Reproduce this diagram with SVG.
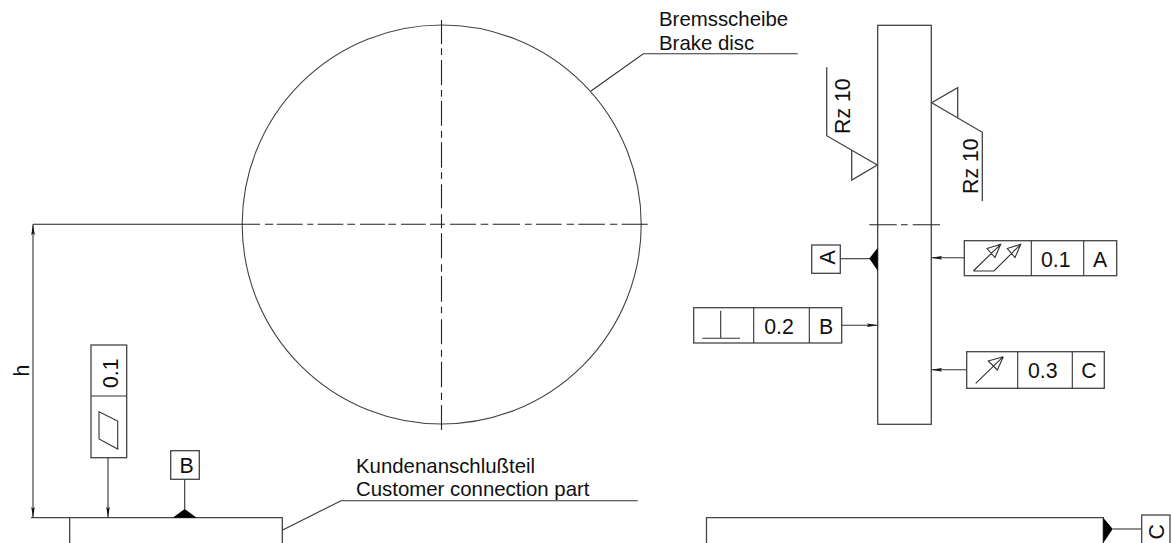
<svg xmlns="http://www.w3.org/2000/svg" width="1171" height="543" viewBox="0 0 1171 543">
<defs>
<marker id="arr" markerUnits="userSpaceOnUse" markerWidth="12" markerHeight="6" refX="11" refY="2.5" orient="auto-start-reverse"><path d="M0 0.700L11 2.500L0 4.300L2 2.500Z" fill="#111"/></marker>
</defs>
<style>
.l{fill:none;stroke:#444;stroke-width:1.3}
.d{fill:none;stroke:#333;stroke-width:1.1}
.c{fill:none;stroke:#222;stroke-width:1.1}
.b{fill:#fff;stroke:#444;stroke-width:1.3}
.f{fill:#000;stroke:none}
text{font-family:"Liberation Sans",Arial,sans-serif;font-size:20.400px;fill:#111}
.t{font-size:21.300px;text-anchor:middle}
.s{font-size:21.300px}
</style>
<rect width="1171" height="543" fill="#fff"/>
<g id="brake-disc-front">
<circle cx="441.700" cy="224.500" r="199.500" fill="none" stroke="#444" stroke-width="1.1"/>
<path class="c" d="M33 224.300H260M265 224.300H273.300M276.700 224.300H302.700M307.300 224.300H313.300M317.700 224.300H343.300M347.300 224.300H355M360 224.300H385M388.300 224.300H396M401 224.300H425.700M430 224.300H445M450 224.300H476M480.700 224.300H488.300M492.700 224.300H520M525 224.300H531.700M536 224.300H561.700M566.700 224.300H574M578.300 224.300H605M610 224.300H617.300M621.700 224.300H647.700"/>
<path class="c" d="M441.500 20V44.300M441.500 48.300V55M441.500 60V85M441.500 90V96.700M441.500 101V125.700M441.500 131V137.700M441.500 142.300V167.700M441.500 172.300V179M441.500 184.300V208.300M441.500 214.300V228.300M441.500 233.300V258.300M441.500 264.300V271.700M441.500 276V301.700M441.500 306.700V313.300M441.500 319.300V344.300M441.500 350V356.700M441.500 361.700V387.300M441.500 392.700V400M441.500 405V430"/>
</g>
<g id="brake-disc-side">
<rect class="l" x="877.700" y="25.300" width="53.600" height="399"/>
<path class="c" d="M869.300 224.700H896.700M901 224.700H907.700M912.700 224.700H940"/>
</g>
<g id="customer-part">
<path class="l" d="M31 517.700H282.300V543M69.700 517.700V543"/>
</g>
<g id="customer-part-right">
<path class="l" d="M706.500 543V517.700H1103.300V543"/>
<path class="f" d="M1103.300 517.700L1112.700 529L1103.300 543Z"/>
</g>
<g id="connectors">
<path class="d" d="M33 224.300V517.700" marker-start="url(#arr)" marker-end="url(#arr)"/>
<path class="d" d="M108 458V517.700" marker-end="url(#arr)"/>
<path class="d" d="M184.700 479V509"/>
<path class="d" d="M591 91L643.300 53.700H797.700"/>
<path class="d" d="M282.700 530L341 500.700H637.700"/>
<path class="d" d="M840.300 258.700H870"/>
<path class="d" d="M841.700 325.300H877.700" marker-end="url(#arr)"/>
<path class="d" d="M964.300 257.700H931.300" marker-end="url(#arr)"/>
<path class="d" d="M966.700 369.700H931.300" marker-end="url(#arr)"/>
<path class="d" d="M1112.700 529H1141.700"/>
<path class="l" d="M826.700 67.300V135.700L877.300 165L851.700 180V150"/>
<path class="l" d="M982.300 201V132.300L931.700 102.700L957.700 87.700V117.700"/>
</g>
<g id="label-bremsscheibe">
<text x="659" y="26">Bremsscheibe</text>
<text x="659" y="49.500">Brake disc</text>
</g>
<g id="label-kunde">
<text x="356" y="472.700">Kundenanschlußteil</text>
<text x="356" y="496">Customer connection part</text>
</g>
<text class="t" transform="translate(29 370.700) rotate(-90)">h</text>
<text class="s" transform="translate(850 134) rotate(-90)">Rz 10</text>
<text class="s" transform="translate(978 194) rotate(-90)">Rz 10</text>
<g id="datum-a">
<rect class="b" x="811.700" y="245" width="28.600" height="28.300"/>
<text class="t" transform="translate(835 257.500) rotate(-90)">A</text>
<path class="f" d="M877.700 247.700L869.300 258.500L877.700 270.700Z"/>
</g>
<g id="datum-b">
<rect class="b" x="170.700" y="450.700" width="28.600" height="28.600"/>
<text x="186.500" y="473.300" class="t">B</text>
<path class="f" d="M172.700 517.700L184.700 509L196.700 517.700Z"/>
</g>
<g id="datum-c">
<rect class="b" x="1141.700" y="515" width="28.300" height="32"/>
<text class="t" transform="translate(1164.300 531.700) rotate(-90)">C</text>
</g>
<g id="fcf-parallel">
<rect class="b" x="964.300" y="240.700" width="152.400" height="35"/>
<path class="d" d="M1031.300 240.700V275.700M1083.700 240.700V275.700"/>
<text x="1055.700" y="266.700" class="t">0.1</text>
<text x="1100" y="266.700" class="t">A</text>
<path class="d" d="M973.300 271L1000.700 244.300M973.300 271H994L1020.700 244.300M1000.700 244.300L987 248.500L995 257.500ZM1020.700 244.300L1007.300 248.500L1015 257.500Z"/>
</g>
<g id="fcf-perp">
<rect class="b" x="693.700" y="307.700" width="148" height="35.300"/>
<path class="d" d="M753.700 307.700V343M809.300 307.700V343"/>
<text x="779" y="334" class="t">0.2</text>
<text x="826" y="334" class="t">B</text>
<path class="d" d="M702.300 338.300H740M720.700 310.700V338.300"/>
</g>
<g id="fcf-runout">
<rect class="b" x="966.700" y="351.700" width="137.600" height="36.600"/>
<path class="d" d="M1017.700 351.700V388.300M1072.300 351.700V388.300"/>
<text x="1042.700" y="378.300" class="t">0.3</text>
<text x="1089" y="378.300" class="t">C</text>
<path class="d" d="M975.700 383.300L1003.300 356.700L988.300 361L997.300 370L1003.300 356.700"/>
</g>
<g id="fcf-flatness">
<rect class="b" x="91" y="345" width="35.700" height="112.700"/>
<path class="d" d="M91 396H126.700"/>
<text class="t" transform="translate(117.700 373.300) rotate(-90)">0.1</text>
<path class="d" d="M99 411.700L117.700 421V449L99 439Z"/>
</g>
</svg>
